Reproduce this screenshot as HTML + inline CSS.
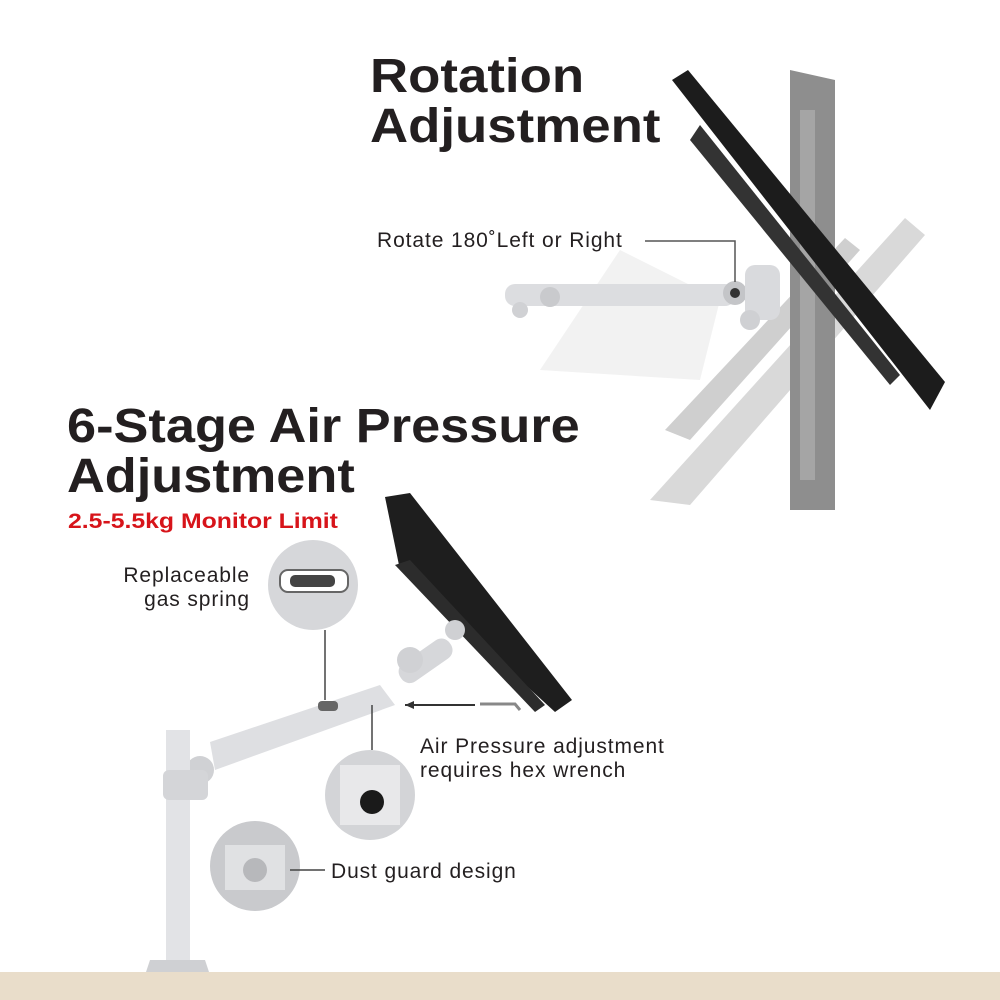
<!DOCTYPE html>
<html><head><style>
body{margin:0;background:#fff;width:1000px;height:1000px;overflow:hidden;position:relative;font-family:"Liberation Sans",sans-serif}
.t{position:absolute;font-weight:bold;color:#231f20;transform-origin:0 0}
.s{position:absolute;color:#231f20;font-size:21px;letter-spacing:0.9px}
</style></head><body>
<svg width="1000" height="1000" style="position:absolute;left:0;top:0">
<polygon points="540,370 620,250 720,300 700,380" fill="#f2f2f2"/>
<polygon points="650,500 690,505 925,235 905,218" fill="#d9d9d9"/>
<polygon points="665,430 690,440 860,250 845,238" fill="#cfcfcf"/>
<polygon points="790,70 835,80 835,510 790,510" fill="#8e8e8e"/>
<polygon points="800,110 815,110 815,480 800,480" fill="#a5a5a5"/>
<polygon points="672,80 688,70 945,382 930,410" fill="#1c1c1c"/>
<polygon points="690,140 700,125 900,375 890,385" fill="#333"/>
<rect x="505" y="284" width="230" height="22" rx="10" fill="#dcdde0"/>
<circle cx="550" cy="297" r="10" fill="#c9cacd"/>
<circle cx="520" cy="310" r="8" fill="#d0d1d4"/>
<circle cx="735" cy="293" r="12" fill="#c4c5c8"/>
<circle cx="735" cy="293" r="5" fill="#333"/>
<rect x="745" y="265" width="35" height="55" rx="10" fill="#d9dadd"/>
<circle cx="750" cy="320" r="10" fill="#cfd0d3"/>
<polyline points="645,241 735,241 735,282" fill="none" stroke="#555" stroke-width="1.5"/>
<polygon points="385,497 410,493 572,700 555,712 400,570" fill="#1e1e1e"/>
<polygon points="395,565 410,560 545,705 535,712" fill="#2c2c2c"/>
<rect x="395" y="650" width="60" height="22" rx="10" fill="#d6d7da" transform="rotate(-35 425 660)"/>
<circle cx="410" cy="660" r="13" fill="#d0d1d4"/>
<circle cx="455" cy="630" r="10" fill="#cfd0d3"/>
<polygon points="210,742 380,685 395,705 215,770" fill="#dedfe2"/>
<rect x="318" y="701" width="20" height="10" rx="4" fill="#666"/>
<circle cx="200" cy="770" r="14" fill="#d0d1d4"/>
<rect x="166" y="730" width="24" height="245" fill="#e2e3e6"/>
<rect x="163" y="770" width="45" height="30" rx="6" fill="#d4d5d8"/>
<polygon points="150,960 205,960 210,975 145,975" fill="#cfd0d3"/>
<rect x="0" y="972" width="1000" height="28" fill="#e9ddca"/>
<circle cx="313" cy="585" r="45" fill="#d6d7da"/>
<rect x="280" y="570" width="68" height="22" rx="8" fill="#fff" stroke="#666" stroke-width="2"/>
<rect x="290" y="575" width="45" height="12" rx="5" fill="#444"/>
<line x1="325" y1="630" x2="325" y2="700" stroke="#444" stroke-width="1.5"/>
<circle cx="370" cy="795" r="45" fill="#d3d4d7"/>
<rect x="340" y="765" width="60" height="60" fill="#e8e8ea"/>
<circle cx="372" cy="802" r="12" fill="#1a1a1a"/>
<line x1="372" y1="705" x2="372" y2="750" stroke="#444" stroke-width="1.5"/>
<circle cx="255" cy="866" r="45" fill="#c9cacd"/>
<rect x="225" y="845" width="60" height="45" fill="#e0e1e3"/>
<circle cx="255" cy="870" r="12" fill="#b7b8bb"/>
<line x1="290" y1="870" x2="325" y2="870" stroke="#444" stroke-width="1.5"/>
<line x1="405" y1="705" x2="475" y2="705" stroke="#333" stroke-width="2"/>
<polygon points="405,705 414,701 414,709" fill="#333"/>
<path d="M480,704 L515,704 L520,710" stroke="#888" stroke-width="3" fill="none"/>
</svg>
<div class="t" style="left:370px;top:52px;font-size:48px;line-height:50px;transform:scaleX(1.1)">Rotation<br>Adjustment</div>
<div class="s" style="left:377px;top:229px">Rotate 180˚Left or Right</div>
<div class="t" style="left:67px;top:402px;font-size:48px;line-height:50px;transform:scaleX(1.09)">6-Stage Air Pressure<br>Adjustment</div>
<div class="t" style="left:68px;top:510px;font-size:21px;color:#d7141a;transform:scaleX(1.18)">2.5-5.5kg Monitor Limit</div>
<div class="s" style="left:80px;top:564px;text-align:right;width:170px;line-height:24px">Replaceable<br>gas spring</div>
<div class="s" style="left:420px;top:735px;line-height:24px">Air Pressure adjustment<br>requires hex wrench</div>
<div class="s" style="left:331px;top:860px">Dust guard design</div>
</body></html>
